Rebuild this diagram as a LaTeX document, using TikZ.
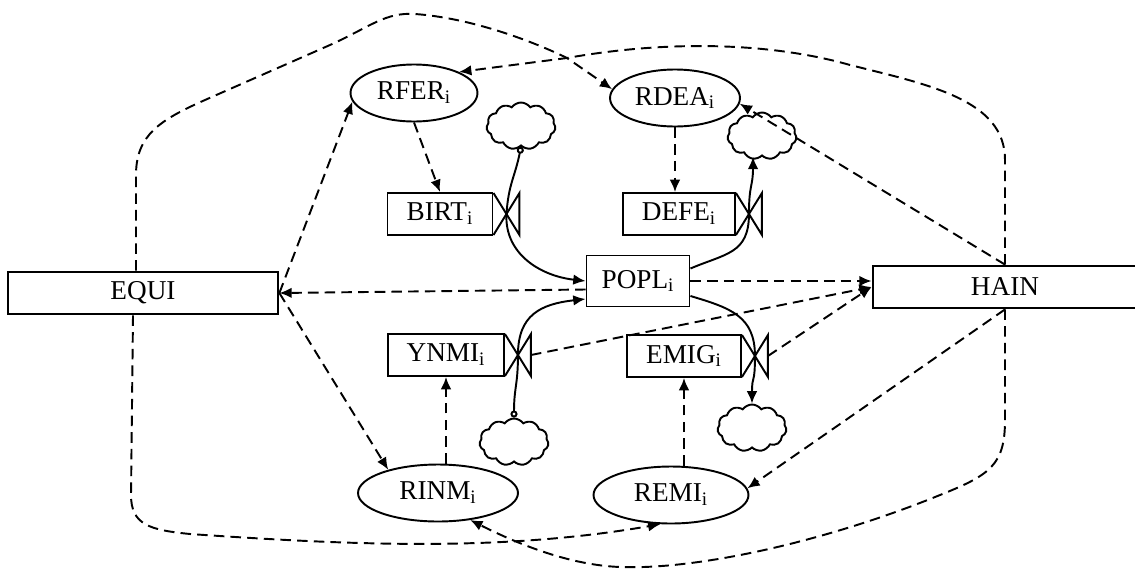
\documentclass[tikz,border=0pt]{standalone}
\usepackage{fontspec}
\setmainfont{Liberation Serif}
\usepackage{tikz}
\usetikzlibrary{positioning}
\usetikzlibrary{arrows.meta}
\usetikzlibrary{shapes.geometric, shapes.symbols}
\newcommand{\sbi}{\textsubscript{i}}
\tikzset {
  >={Latex[length=7pt,width=6pt]},
  % stocks and rates (boxes)
  stock/.style = {draw, line width=1.1pt, rectangle, inner sep=0pt, minimum height=0.84cm,
    font=\fontsize{15.5}{18}\selectfont},
  % the two sectors at the sides
  sector/.style = {stock, line width=1.6pt},
  % auxiliary variables
  aux/.style = {draw, line width=1.1pt, ellipse, inner sep=0pt, minimum height=1.14cm,
    font=\fontsize{15.5}{18}\selectfont},
  % valve next to a rate box
  valve/.style = {rectangle, inner sep=0pt, outer sep=0pt, minimum width=0.52cm, minimum height=0.84cm},
  % sources and sinks
  cloudy/.style = {draw, line width=1.1pt, cloud, cloud puffs=11, cloud puff arc=110, cloud ignores aspect,
    inner sep=0pt, minimum width=1.38cm, minimum height=0.94cm},
  flow/.style = {line width=1.1pt},
  link/.style = {->, line width=1.1pt, dash pattern=on 6pt off 3.5pt},
}

\begin{document}
\begin{tikzpicture}[x=0.02cm, y=-0.02cm]
  \useasboundingbox (0,0) rectangle (1135,568);
  \clip (0,0) rectangle (1135,568);

  % sectors
  \node[sector, minimum width=5.4cm] (equi) at (143,293) {EQUI};
  \node[sector, minimum width=5.28cm] (hain) at (1005,287) {HAIN};

  % stock and rates
  \node[stock, minimum width=2.06cm, minimum height=1.02cm] (popl) at (638,281) {POPL\sbi};
  \node[stock, minimum width=2.1cm] (birt) at (440,214) {BIRT\sbi};
  \node[stock, minimum width=2.24cm] (defe) at (679,214) {DEFE\sbi};
  \node[stock, minimum width=2.32cm] (ynmi) at (446,355) {YNMI\sbi};
  \node[stock, minimum width=2.28cm] (emig) at (684,356) {EMIG\sbi};

  \node[valve, right=0pt of birt] (birtv) {};
  \node[valve, right=0pt of defe] (defev) {};
  \node[valve, right=0pt of ynmi] (ynmiv) {};
  \node[valve, right=0pt of emig] (emigv) {};
  \foreach \v in {birtv, defev, ynmiv, emigv}
    \draw[line width=1.1pt] (\v.north west) -- (\v.south east) -- (\v.north east) -- (\v.south west);

  % auxiliaries
  \node[aux, minimum width=2.54cm] (rfer) at (414,93) {RFER\sbi};
  \node[aux, minimum width=2.6cm] (rdea) at (675,98) {RDEA\sbi};
  \node[aux, minimum width=3.2cm] (rinm) at (438,493) {RINM\sbi};
  \node[aux, minimum width=3.1cm] (remi) at (671,495) {REMI\sbi};

  % clouds
  \node[cloudy] (src1) at (521,126) {};
  \node[cloudy] (snk1) at (762,136) {};
  \node[cloudy] (src2) at (514,442) {};
  \node[cloudy] (snk2) at (752,428) {};

  % flows
  \draw[flow, {Circle[open,length=4pt]}->] (src1.south) .. controls +(-6,30) and +(2,-30) .. (birtv.center)
    .. controls +(-2,40) and +(-45,-5) .. (popl.west);
  \draw[flow, {Circle[open,length=4pt]}->] (src2.north) .. controls +(0,-30) and +(0,30) .. (ynmiv.center)
    .. controls +(0,-40) and +(-45,5) .. ([yshift=-0.36cm]popl.west);
  \draw[flow, ->] ([yshift=0.25cm]popl.east) .. controls +(35,-15) and +(0,40) .. (defev.center)
    .. controls +(0,-30) and +(0,30) .. ([xshift=-0.18cm]snk1.south);
  \draw[flow, ->] ([yshift=-0.3cm]popl.east) .. controls +(40,12) and +(0,-40) .. (emigv.center)
    .. controls +(0,30) and +(0,-30) .. (snk2.north);

  % information links
  \draw[link] ([yshift=-0.17cm]popl.west) -- (equi.east);
  \draw[link] (equi.east) -- (rfer.188);
  \draw[link] (equi.east) -- (rinm.155);
  \draw[link] (rfer.south) -- (birt.north);
  \draw[link] (rdea.south) -- (rdea.south |- defe.north);
  \draw[link] (ynmi.south |- rinm.north) -- (ynmi.south);
  \draw[link] (emig.south |- remi.north) -- (emig.south);
  \draw[link] (popl.east) -- (popl.east -| hain.west);
  \draw[link] (ynmiv.east) -- (hain.west);
  \draw[link] (emigv.east) -- (hain.west);
  \draw[link] (hain.north) -- (rdea.-5);
  \draw[link] (hain.south) -- (remi.5);

  % long links round the outside
  \draw[link] (hain.north) -- (1005,160) .. controls (1005,100) and (930,85) .. (850,65)
    .. controls (780,45) and (680,38) .. (567,58) -- (rfer.25);
  \draw[link] ([xshift=-0.14cm]equi.north) -- (136,175) .. controls (136,135) and (160,120) .. (205,100)
    -- (330,45) .. controls (370,27) and (385,12) .. (415,14)
    .. controls (470,18) and (530,40) .. (567,58) -- (rdea.172);
  \draw[link] ([xshift=-0.2cm]equi.south) -- (131,495) .. controls (131,525) and (150,530) .. (190,534)
    .. controls (350,545) and (500,552) .. (remi.250);
  \draw[link] (hain.south) -- (1005,420) .. controls (1005,465) and (990,475) .. (940,495)
    .. controls (830,540) and (700,570) .. (620,567)
    .. controls (570,565) and (520,545) .. (rinm.-40);
\end{tikzpicture}
\end{document}
